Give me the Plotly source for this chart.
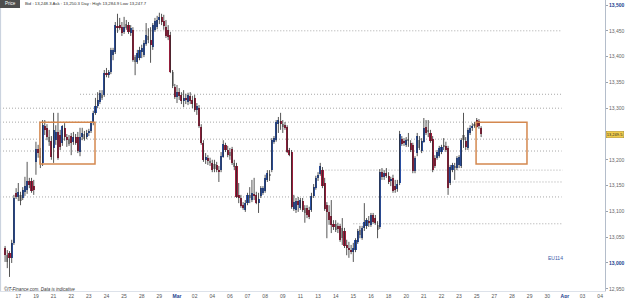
import plotly.graph_objects as go

# ---------------- data (4h candles) ----------------
opens = [
    13029, 13015, 13019, 13010, 13039, 13136, 13128, 13132, 13126, 13138,
    13142, 13159, 13159, 13149, 13196, 13221, 13207, 13194, 13265, 13262,
    13244, 13237, 13223, 13238, 13254, 13248, 13233, 13262, 13244, 13240,
    13246, 13235, 13244, 13244, 13215, 13244, 13250, 13244, 13252, 13256,
    13271, 13291, 13305, 13312, 13326, 13326, 13368, 13364, 13370, 13403,
    13409, 13459, 13461, 13457, 13448, 13463, 13461, 13446, 13452, 13399,
    13390, 13397, 13409, 13403, 13424, 13440, 13432, 13419, 13452, 13457,
    13471, 13477, 13469, 13457, 13452, 13442, 13370, 13341, 13322, 13331,
    13326, 13314, 13320, 13312, 13324, 13316, 13320, 13297, 13300, 13264,
    13233, 13200, 13204, 13198, 13194, 13182, 13190, 13180, 13180, 13205,
    13229, 13219, 13215, 13221, 13194, 13188, 13132, 13126, 13112, 13103,
    13116, 13132, 13122, 13134, 13132, 13116, 13130, 13136, 13140, 13161,
    13169, 13180, 13235, 13238, 13269, 13275, 13269, 13267, 13264, 13219,
    13215, 13105, 13103, 13120, 13107, 13120, 13107, 13107, 13103, 13103,
    13130, 13145, 13165, 13173, 13180, 13155, 13112, 13099, 13091, 13076,
    13064, 13072, 13072, 13048, 13062, 13035, 13029, 13025, 13021, 13025,
    13041, 13064, 13048, 13068, 13072, 13081, 13074, 13093, 13087, 13074,
    13070, 13176, 13167, 13174, 13169, 13159, 13165, 13149, 13143, 13155,
    13240, 13235, 13229, 13236, 13233, 13229, 13178, 13213, 13238, 13217,
    13235, 13264, 13254, 13252, 13240, 13204, 13204, 13207, 13215, 13225,
    13227, 13223, 13155, 13180, 13188, 13184, 13190, 13188, 13238, 13236,
    13223, 13252, 13262, 13269, 13277, 13275, 13262,
]
highs = [
    13033, 13025, 13023, 13045, 13132, 13145, 13155, 13138, 13147, 13167,
    13196, 13165, 13165, 13161, 13235, 13229, 13223, 13277, 13277, 13269,
    13258, 13246, 13291, 13267, 13291, 13258, 13267, 13271, 13250, 13248,
    13252, 13254, 13250, 13254, 13262, 13262, 13256, 13258, 13260, 13275,
    13295, 13320, 13331, 13335, 13335, 13374, 13378, 13374, 13417, 13417,
    13467, 13483, 13475, 13467, 13477, 13471, 13467, 13461, 13457, 13403,
    13413, 13419, 13423, 13432, 13465, 13455, 13457, 13465, 13475, 13479,
    13485, 13483, 13481, 13471, 13461, 13448, 13374, 13347, 13345, 13339,
    13331, 13335, 13328, 13330, 13331, 13324, 13326, 13310, 13306, 13269,
    13238, 13213, 13209, 13204, 13200, 13200, 13196, 13188, 13215, 13238,
    13233, 13227, 13223, 13225, 13200, 13194, 13155, 13132, 13118, 13122,
    13136, 13147, 13161, 13165, 13138, 13136, 13149, 13149, 13171, 13180,
    13180, 13242, 13246, 13277, 13283, 13291, 13277, 13273, 13267, 13223,
    13219, 13132, 13126, 13128, 13126, 13126, 13112, 13112, 13109, 13136,
    13153, 13169, 13176, 13194, 13186, 13165, 13118, 13112, 13122, 13083,
    13083, 13078, 13076, 13087, 13068, 13045, 13041, 13035, 13039, 13048,
    13066, 13072, 13072, 13116, 13087, 13091, 13097, 13097, 13093, 13081,
    13182, 13184, 13180, 13184, 13176, 13167, 13171, 13161, 13161, 13256,
    13246, 13242, 13244, 13252, 13238, 13233, 13207, 13252, 13246, 13242,
    13281, 13277, 13277, 13258, 13246, 13209, 13219, 13227, 13229, 13242,
    13235, 13227, 13190, 13194, 13194, 13207, 13209, 13242, 13291, 13244,
    13262, 13267, 13271, 13273, 13281, 13279, 13265,
]
lows = [
    13002, 12990, 12973, 13000, 13035, 13124, 13120, 13112, 13122, 13130,
    13134, 13145, 13136, 13132, 13171, 13204, 13184, 13188, 13248, 13238,
    13227, 13200, 13194, 13229, 13200, 13219, 13227, 13237, 13225, 13227,
    13209, 13229, 13229, 13213, 13207, 13238, 13237, 13240, 13246, 13252,
    13267, 13287, 13300, 13308, 13316, 13322, 13360, 13359, 13366, 13393,
    13405, 13446, 13452, 13440, 13444, 13452, 13444, 13440, 13390, 13364,
    13386, 13393, 13397, 13399, 13421, 13426, 13388, 13413, 13448, 13453,
    13463, 13461, 13452, 13436, 13432, 13368, 13339, 13318, 13310, 13316,
    13308, 13302, 13308, 13306, 13308, 13300, 13293, 13287, 13262, 13229,
    13196, 13192, 13190, 13188, 13176, 13176, 13176, 13157, 13176, 13204,
    13215, 13205, 13200, 13190, 13180, 13126, 13116, 13107, 13103, 13099,
    13112, 13116, 13118, 13122, 13114, 13097, 13126, 13132, 13136, 13157,
    13159, 13176, 13231, 13235, 13252, 13258, 13252, 13258, 13213, 13207,
    13105, 13101, 13097, 13099, 13103, 13099, 13078, 13087, 13085, 13099,
    13126, 13142, 13159, 13169, 13145, 13101, 13048, 13074, 13058, 13064,
    13060, 13058, 13041, 13035, 13029, 13015, 13010, 13017, 13002, 13021,
    13037, 13048, 13045, 13062, 13066, 13070, 13070, 13076, 13074, 13048,
    13066, 13161, 13161, 13165, 13153, 13149, 13136, 13136, 13138, 13151,
    13227, 13227, 13225, 13225, 13215, 13174, 13174, 13207, 13219, 13213,
    13233, 13248, 13244, 13233, 13176, 13184, 13200, 13204, 13211, 13219,
    13215, 13132, 13151, 13176, 13161, 13180, 13184, 13184, 13223, 13219,
    13219, 13248, 13256, 13262, 13262, 13260, 13244,
]
closes = [
    13015, 13002, 13010, 13039, 13126, 13128, 13138, 13120, 13142, 13149,
    13159, 13151, 13140, 13142, 13221, 13213, 13204, 13267, 13258, 13244,
    13235, 13205, 13258, 13254, 13204, 13225, 13265, 13244, 13238, 13231,
    13233, 13244, 13233, 13217, 13244, 13252, 13240, 13252, 13256, 13271,
    13291, 13305, 13316, 13330, 13320, 13368, 13364, 13370, 13413, 13413,
    13461, 13455, 13455, 13446, 13457, 13455, 13448, 13455, 13393, 13390,
    13407, 13413, 13417, 13426, 13442, 13432, 13423, 13461, 13469, 13471,
    13477, 13467, 13459, 13440, 13438, 13370, 13343, 13322, 13331, 13324,
    13314, 13320, 13316, 13326, 13314, 13308, 13297, 13305, 13265, 13233,
    13200, 13205, 13198, 13194, 13180, 13192, 13180, 13176, 13207, 13231,
    13219, 13209, 13207, 13194, 13186, 13128, 13126, 13110, 13107, 13116,
    13132, 13126, 13136, 13130, 13116, 13124, 13145, 13145, 13165, 13174,
    13172, 13238, 13242, 13273, 13277, 13269, 13264, 13262, 13215, 13209,
    13109, 13118, 13120, 13112, 13122, 13103, 13097, 13093, 13089, 13130,
    13147, 13165, 13171, 13188, 13149, 13105, 13099, 13083, 13074, 13070,
    13076, 13066, 13045, 13068, 13033, 13029, 13025, 13021, 13029, 13045,
    13062, 13054, 13068, 13079, 13083, 13078, 13093, 13079, 13078, 13064,
    13176, 13167, 13174, 13169, 13157, 13161, 13140, 13142, 13153, 13250,
    13231, 13233, 13238, 13240, 13219, 13178, 13204, 13246, 13223, 13236,
    13262, 13252, 13258, 13236, 13180, 13188, 13215, 13223, 13225, 13229,
    13219, 13145, 13186, 13190, 13184, 13204, 13205, 13238, 13248, 13225,
    13258, 13262, 13265, 13265, 13264, 13265, 13249.5,
]
gray_bars = [1, 7, 16, 20, 29, 36, 44, 55, 59, 65, 76, 93, 95, 102, 104, 111,
             120, 126, 136, 150, 153, 161, 169, 183, 188, 192, 199, 204, 208, 213]

date_labels = ["17", "19", "21", "22", "23", "24", "25", "28", "29", "Mar",
               "02", "04", "06", "07", "08", "09", "11", "13", "14", "15",
               "16", "18", "20", "21", "22", "23", "25", "27", "28", "29",
               "30", "Apr", "03", "04"]
bars_per_label = 8
first_label_bar = 6

price_ticks = [12950, 13000, 13050, 13100, 13150, 13200, 13300, 13350, 13400, 13450, 13500]
strong_ticks = [13000, 13500]
last_price = 13249.5

# user-drawn horizontal levels: (price, start bar or None = left edge, end bar)
levels = [13450, 13327, 13300, 13273, 13240, 13217, 13180, 13157, 13128, 13076]
level_start = [50, 34, None, None, None, None, 144, 203, None, 158]
level_end = [252.5, 252.5, 252.5, 213.7, 252.5, 252.5, 253, 253, 252.5, 253]

# orange range boxes
box_bars = [(15.8, 40.8), (213.7, 236.8)]
box_prices = (13192, 13273)

# ---------------- figure ----------------
n = min(len(opens), len(highs), len(lows), len(closes))
idx = list(range(n))
BLUE, RED, GRAY = "#2b53ab", "#a11d3d", "#a3a3a3"

colors = []
for i in idx:
    if i in gray_bars:
        colors.append(GRAY)
    elif closes[i] >= opens[i]:
        colors.append(BLUE)
    else:
        colors.append(RED)

wx, wy = [], []
for i in idx:
    wx += [i, i, None]
    wy += [lows[i], highs[i], None]

fig = go.Figure()
fig.add_trace(go.Scatter(x=wx, y=wy, mode="lines",
                         line=dict(color="#2a2a2a", width=0.8),
                         hoverinfo="skip", showlegend=False))
fig.add_trace(go.Bar(x=idx,
                     base=[min(opens[i], closes[i]) for i in idx],
                     y=[max(abs(closes[i] - opens[i]), 2) for i in idx],
                     width=0.95,
                     marker=dict(color=colors, line=dict(width=0)),
                     showlegend=False, hoverinfo="skip"))

x0r, x1r = -2.31, 272.2
y0r, y1r = 12945.7, 13509.7

shapes = []
for p, s, e in zip(levels, level_start, level_end):
    shapes.append(dict(type="line", xref="x", yref="y",
                       x0=x0r if s is None else s, x1=e, y0=p, y1=p,
                       line=dict(color="#a8a8a8", width=1, dash="1px,2px"),
                       layer="below"))
for (a, b) in box_bars:
    shapes.append(dict(type="rect", xref="x", yref="y", x0=a, x1=b,
                       y0=box_prices[0], y1=box_prices[1],
                       line=dict(color="#d4884f", width=1.5),
                       fillcolor="rgba(0,0,0,0)"))
# left border
shapes.append(dict(type="line", xref="paper", yref="paper", x0=0.001, x1=0.001,
                   y0=0, y1=1, line=dict(color="#c6cfdc", width=1)))
# header badge
shapes.append(dict(type="rect", xref="paper", yref="paper",
                   x0=0, x1=20 / 605, y0=1 - 8 / 291, y1=1,
                   fillcolor="#4d4d4d", line=dict(width=0)))

ticktext_x = []
for lab in date_labels:
    if lab in ("Mar", "Apr"):
        ticktext_x.append("<b><span style='color:#23418f'>%s</span></b>" % lab)
    else:
        ticktext_x.append(lab)
tickvals_x = [first_label_bar + bars_per_label * k for k in range(len(date_labels))]

ticktext_y = []
for v in price_ticks:
    s = "{:,}".format(v)
    if v in strong_ticks:
        s = "<b><span style='color:#23418f'>%s</span></b>" % s
    ticktext_y.append(s)

annotations = [
    dict(xref="paper", yref="y", x=1, y=last_price, xanchor="left", yanchor="middle",
         xshift=1, text="{:,.1f}".format(last_price), showarrow=False,
         font=dict(size=4, color="#222", family="Liberation Sans"),
         bgcolor="#f2cd4c", bordercolor="#a68b2c", borderwidth=0.5, borderpad=0.3),
    dict(xref="paper", yref="paper", x=10 / 605, y=1 - 4 / 291, xanchor="center",
         yanchor="middle", text="Price", showarrow=False,
         font=dict(size=4.5, color="#ffffff", family="Liberation Sans")),
    dict(xref="paper", yref="paper", x=23 / 605, y=1 - 3.5 / 291, xanchor="left",
         yanchor="middle",
         text="Bid : 13,248.3 Ask : 13,250.3 Day : High 13,284.9 Low 13,247.7",
         showarrow=False, font=dict(size=4.3, color="#333", family="Liberation Sans")),
    dict(xref="paper", yref="paper", x=2 / 605, y=2 / 291, xanchor="left",
         yanchor="middle", text="<i>©IT-Finance.com. Data is indicative</i>",
         showarrow=False, font=dict(size=4.5, color="#333", family="Liberation Sans")),
    dict(xref="paper", yref="paper", x=555 / 605, y=33 / 291, xanchor="center",
         yanchor="middle", text="EU114", showarrow=False,
         font=dict(size=5, color="#3a5aa8", family="Liberation Sans")),
]

fig.update_layout(
    template="none",
    width=625, height=298,
    margin=dict(l=0, r=20, t=0, b=7, pad=0),
    paper_bgcolor="white", plot_bgcolor="white",
    showlegend=False,
    shapes=shapes, annotations=annotations,
    bargap=0,
    xaxis=dict(range=[x0r, x1r], tickvals=tickvals_x, ticktext=ticktext_x,
               tickfont=dict(size=5, color="#555", family="Liberation Sans"),
               ticks="", showgrid=False, zeroline=False, showline=True,
               linecolor="#dde2ea", linewidth=1, automargin=False, fixedrange=True),
    yaxis=dict(range=[y0r, y1r], side="right", tickvals=price_ticks, ticktext=ticktext_y,
               tickfont=dict(size=5, color="#666", family="Liberation Sans"),
               ticks="outside", ticklen=2, tickcolor="#9aa3b0",
               showgrid=False, zeroline=False, showline=True,
               linecolor="#b4bdca", linewidth=1, automargin=False, fixedrange=True),
)

fig.write_html("out.html")
